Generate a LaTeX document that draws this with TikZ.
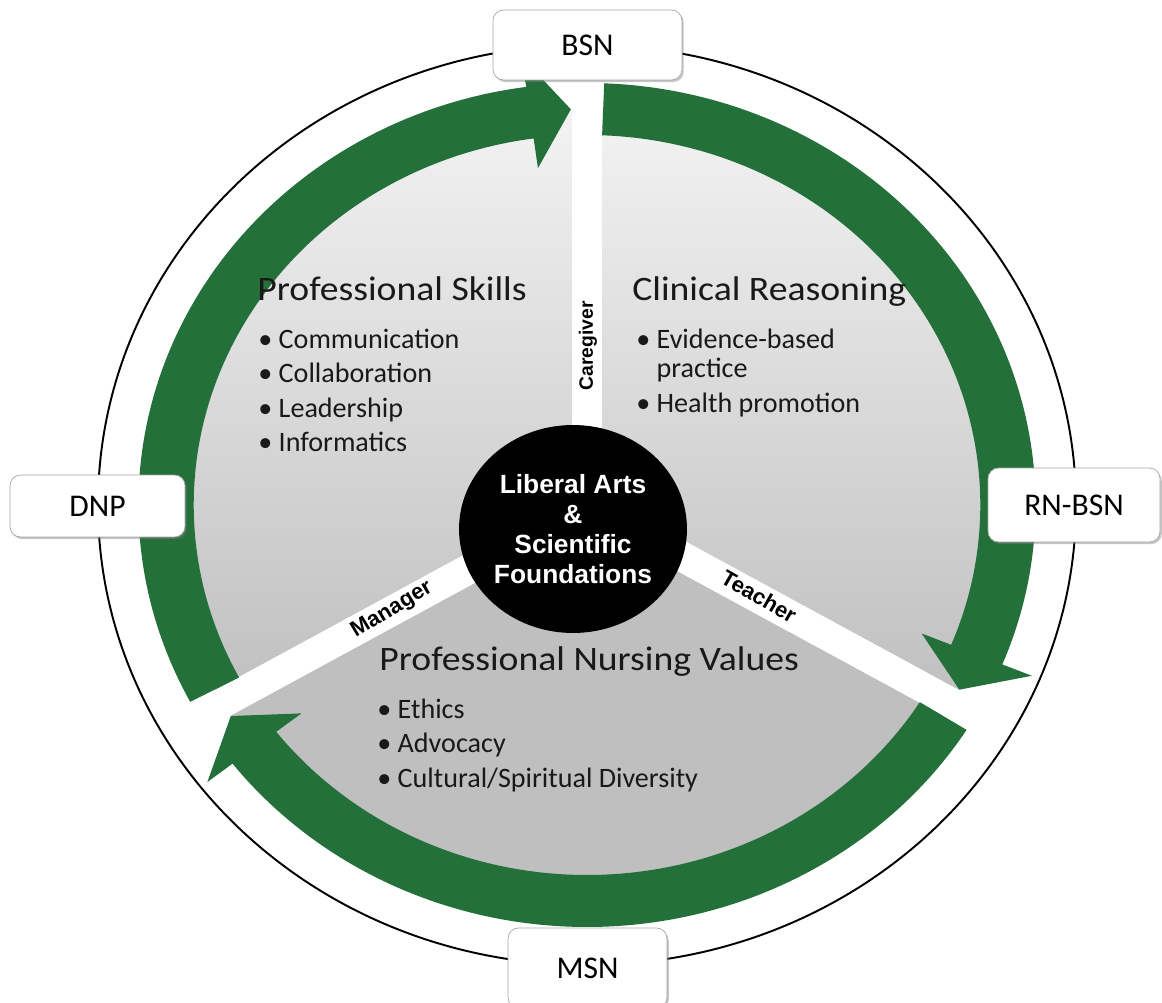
\documentclass[tikz,border=0pt]{standalone}
\usepackage{fontspec}
\setmainfont{Carlito}
\newfontfamily\titlefont[FakeStretch=1.1]{Carlito}
\newfontfamily\hubfont{Liberation Sans}
\usetikzlibrary{shapes,arrows,shadows,positioning}

\definecolor{ringgreen}{RGB}{36,112,58}

\begin{document}
\begin{tikzpicture}[x=0.02cm, y=0.02cm]
\tikzstyle{level box}=[draw=gray!70, fill=white, thin, rounded corners=6pt, font=\fontsize{18}{20}\selectfont, drop shadow={shadow xshift=1pt, shadow yshift=-1.2pt, opacity=.45}]
\tikzstyle{area title}=[anchor=base west, inner sep=0pt, text=black!90, font=\titlefont\fontsize{19.5}{24}\selectfont]
\tikzstyle{area item}=[anchor=base west, inner sep=0pt, text=black!90, font=\fontsize{16}{19}\selectfont]
\tikzstyle{role}=[inner sep=0pt, font=\hubfont\bfseries\fontsize{12.5}{14}\selectfont]
\tikzstyle{hub}=[ellipse, fill=black, text=white, inner sep=0pt, minimum width=4.56cm, minimum height=4.16cm, align=center, font=\hubfont\bfseries\fontsize{15}{17}\selectfont]
\tikzstyle{divider}=[white, line width=0.6cm]
\useasboundingbox (0,0) rectangle (1162,-1003);

% ring: grey pie, white dividers, green arrows, thin rim
\begin{scope}[shift={(587,-505)}, xscale=1.063]
  \shade[top color=black!3, bottom color=black!25] (0,0) -- (-30:395) arc[start angle=-30, end angle=210, radius=395] -- cycle;
  \fill[black!25] (0,0) -- (210:395) arc[start angle=210, end angle=330, radius=395] -- cycle;
  \foreach \a in {90,210,330}
    \draw[divider] (0,0) -- (\a:400);
  \foreach \s/\b/\t in {207.8/97.8/92.2, 87.8/-22.2/-27.8, -32.2/-142.2/-147.8}
    \fill[ringgreen] (\s:370) arc[start angle=\s, end angle=\b, radius=370] -- (\b:340) -- (\t:396)
      -- (\b:452) -- (\b:422) arc[start angle=\b, end angle=\s, radius=422] -- cycle;
  \draw[line width=1.1pt] (0,0) circle[radius=460];
\end{scope}

\node[hub] (core) at (573,-529) {Liberal Arts\\\&\\Scientific\\Foundations};

\node[role, rotate=90, font=\hubfont\bfseries\fontsize{11}{13}\selectfont] (caregiver) at (588,-346) {Caregiver};
\node[role, rotate=31] (manager) at (392,-610) {Manager};
\node[role, rotate=-30] (teacher) at (759,-596) {Teacher};

% program levels
\node[level box, minimum width=3.78cm, minimum height=1.4cm] (bsn) at (587.5,-45) {BSN};
\node[level box, minimum width=3.5cm, minimum height=1.24cm] (dnp) at (97.5,-506) {DNP};
\node[level box, minimum width=3.44cm, minimum height=1.48cm] (rnbsn) at (1074,-505) {RN-BSN};
\node[level box, minimum width=3.18cm, minimum height=1.6cm] (msn) at (587.5,-968) {MSN};

% sectors
\node[area title] (skills) at (257,-300) {Professional Skills};
\foreach \t [count=\i] in {Communication, Collaboration, Leadership, Informatics}
  \node[area item] (skill\i) at (258,{-348-34.5*(\i-1)}) {\textbullet\ \t};

\node[area title] (reasoning) at (632,-300) {Clinical Reasoning};
\node[area item] (reason1) at (636,-348) {\textbullet\ Evidence-based};
\node[area item] (reason1b) at (636,-377) {\phantom{\textbullet\ }practice};
\node[area item] (reason2) at (636,-412) {\textbullet\ Health promotion};

\node[area title] (values) at (379,-670) {Professional Nursing Values};
\foreach \t [count=\i] in {Ethics, Advocacy, {Cultural/Spiritual Diversity}}
  \node[area item] (value\i) at (377,{-718-34.5*(\i-1)}) {\textbullet\ \t};
\end{tikzpicture}
\end{document}
